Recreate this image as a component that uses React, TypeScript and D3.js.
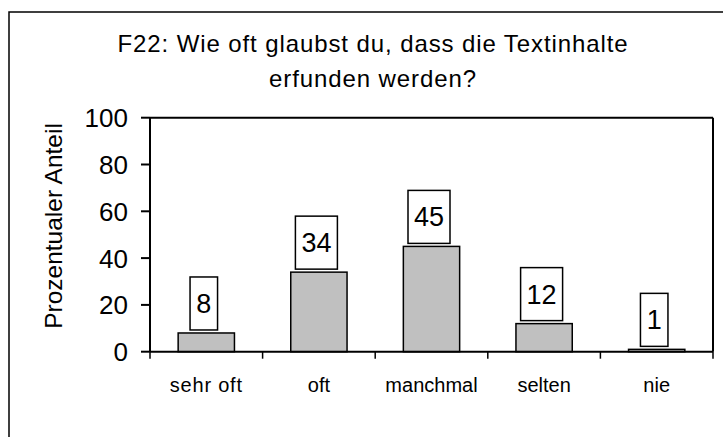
import React from "react";
import * as d3 from "d3";

const categories = ["sehr oft", "oft", "manchmal", "selten", "nie"];
const values = [8, 34, 45, 12, 1];
const yTicks = [0, 20, 40, 60, 80, 100];
const titleLines = ["F22: Wie oft glaubst du, dass die Textinhalte", "erfunden werden?"];
const yLabel = "Prozentualer Anteil";

const width = 723;
const height = 437;
const plot = { left: 150, right: 713, top: 117.7, bottom: 351.7 };
const font = "'Liberation Sans', Arial, sans-serif";

export default function App() {
  const x = d3
    .scaleBand<string>()
    .domain(categories)
    .range([plot.left, plot.right])
    .paddingInner(0.5)
    .paddingOuter(0.25);

  const y = d3.scaleLinear().domain([0, 100]).range([plot.bottom, plot.top]);

  const step = x.step();
  // band boundaries for the category ticks
  const xTickPos = d3.range(categories.length + 1).map((i) => plot.left + i * step);

  return (
    <svg
      width={width}
      height={height}
      style={{ position: "absolute", left: 0, top: 0, background: "#fff" }}
      fontFamily={font}
    >
      {/* outer frame, right/bottom edges run off the picture */}
      <rect x={9} y={12} width={740} height={460} fill="none" stroke="#000" strokeWidth={1.5} />

      {/* title */}
      <text x={373} y={51.5} textAnchor="middle" fontSize={24} letterSpacing={0.9} fill="#000">
        {titleLines[0]}
      </text>
      <text x={373} y={87} textAnchor="middle" fontSize={24} letterSpacing={0.9} fill="#000">
        {titleLines[1]}
      </text>

      {/* plot box: top and right */}
      <line x1={plot.left} x2={plot.right} y1={plot.top} y2={plot.top} stroke="#000" strokeWidth={2} />
      <line x1={plot.right} x2={plot.right} y1={plot.top} y2={plot.bottom} stroke="#000" strokeWidth={2} />

      {/* bars */}
      {categories.map((c, i) => (
        <rect
          key={c}
          x={x(c)}
          y={y(values[i])}
          width={x.bandwidth()}
          height={y(0) - y(values[i])}
          fill="#c0c0c0"
          stroke="#000"
          strokeWidth={1.5}
        />
      ))}

      {/* value labels in boxes */}
      {categories.map((c, i) => {
        const label = String(values[i]);
        const bw = label.length * 14.5 + 13;
        const bh = 53;
        const cx = (x(c) as number) + x.bandwidth() / 2 - 2.5;
        const bottom = y(values[i]) - 3;
        return (
          <g key={"lab" + c}>
            <rect x={cx - bw / 2} y={bottom - bh} width={bw} height={bh} fill="#fff" stroke="#000" strokeWidth={1.5} />
            <text x={cx} y={bottom - bh / 2 + 9.5} textAnchor="middle" fontSize={27} fill="#000">
              {label}
            </text>
          </g>
        );
      })}

      {/* y axis */}
      <line x1={plot.left} x2={plot.left} y1={plot.top} y2={plot.bottom} stroke="#000" strokeWidth={2} />
      {yTicks.map((t) => (
        <g key={"yt" + t}>
          <line x1={plot.left - 9} x2={plot.left} y1={y(t)} y2={y(t)} stroke="#000" strokeWidth={2} />
          <text x={128} y={y(t) + 9.5} textAnchor="end" fontSize={26} fill="#000">
            {t}
          </text>
        </g>
      ))}

      {/* x axis */}
      <line x1={plot.left} x2={plot.right} y1={plot.bottom} y2={plot.bottom} stroke="#000" strokeWidth={2} />
      {xTickPos.map((p, i) => (
        <line key={"xt" + i} x1={p} x2={p} y1={plot.bottom} y2={plot.bottom + 7} stroke="#000" strokeWidth={1.5} />
      ))}
      {categories.map((c) => (
        <text
          key={"xl" + c}
          x={(x(c) as number) + x.bandwidth() / 2}
          y={392.3}
          textAnchor="middle"
          fontSize={20}
          letterSpacing={c === "sehr oft" ? 0.8 : 0}
          fill="#000"
        >
          {c}
        </text>
      ))}

      {/* y label */}
      <text
        transform={`translate(62,226) rotate(-90)`}
        textAnchor="middle"
        fontSize={24.5}
        fill="#000"
      >
        {yLabel}
      </text>
    </svg>
  );
}
